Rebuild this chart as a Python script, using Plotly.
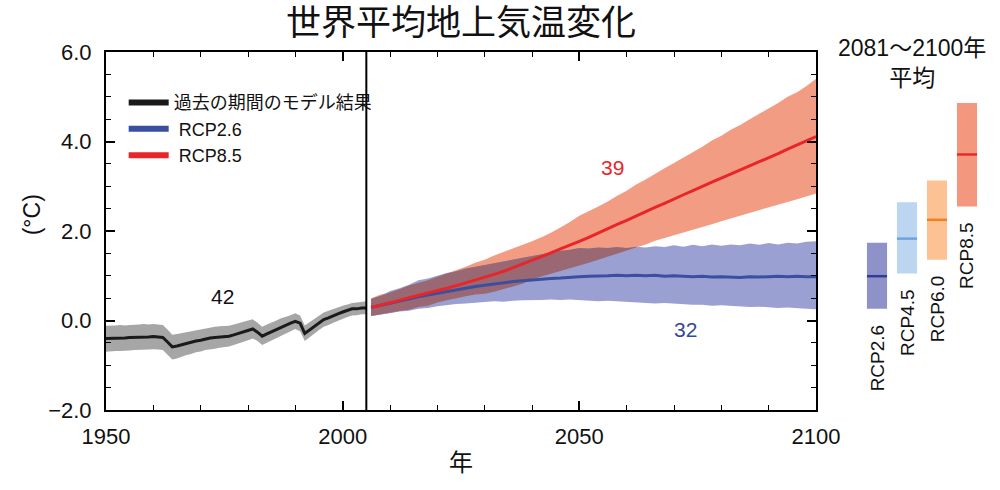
import plotly.graph_objects as go

# ---------------- data ----------------
hist_years = list(range(1950, 2006))
hist_mean = [-0.40, -0.40, -0.39, -0.39, -0.39, -0.38, -0.38, -0.37, -0.37, -0.37,
             -0.36, -0.37, -0.38, -0.48, -0.59, -0.57, -0.54, -0.51, -0.49, -0.46,
             -0.44, -0.41, -0.39, -0.38, -0.37, -0.36, -0.35, -0.32, -0.29, -0.25,
             -0.22, -0.19, -0.26, -0.35, -0.30, -0.25, -0.20, -0.15, -0.11, -0.06,
             -0.02, -0.06, -0.29, -0.21, -0.12, -0.05, 0.02, 0.06, 0.11, 0.15,
             0.19, 0.23, 0.26, 0.26, 0.28, 0.28]
hist_upper = [-0.12, -0.12, -0.11, -0.10, -0.11, -0.10, -0.10, -0.09, -0.08, -0.09,
              -0.08, -0.09, -0.10, -0.20, -0.32, -0.30, -0.28, -0.25, -0.23, -0.21,
              -0.19, -0.17, -0.15, -0.14, -0.13, -0.12, -0.12, -0.09, -0.06, -0.03,
              0.00, 0.03, -0.05, -0.14, -0.09, -0.05, 0.00, 0.05, 0.08, 0.12,
              0.16, 0.11, -0.11, -0.04, 0.05, 0.12, 0.18, 0.22, 0.26, 0.30,
              0.33, 0.36, 0.39, 0.40, 0.42, 0.43]
hist_lower = [-0.70, -0.69, -0.68, -0.68, -0.68, -0.67, -0.66, -0.66, -0.65, -0.65,
              -0.64, -0.65, -0.66, -0.76, -0.87, -0.85, -0.81, -0.77, -0.75, -0.71,
              -0.69, -0.66, -0.64, -0.63, -0.61, -0.59, -0.58, -0.55, -0.52, -0.48,
              -0.44, -0.40, -0.46, -0.55, -0.50, -0.44, -0.39, -0.34, -0.29, -0.24,
              -0.19, -0.24, -0.46, -0.38, -0.29, -0.21, -0.14, -0.10, -0.05, -0.01,
              0.04, 0.08, 0.11, 0.12, 0.14, 0.14]

proj_years = list(range(2006, 2101, 2))
rcp85_mean = [0.29, 0.34, 0.40, 0.45, 0.51, 0.56, 0.61, 0.66, 0.72, 0.78,
              0.84, 0.90, 0.97, 1.03, 1.10, 1.18, 1.26, 1.34, 1.42, 1.51,
              1.60, 1.68, 1.77, 1.86, 1.96, 2.05, 2.15, 2.24, 2.34, 2.44,
              2.53, 2.62, 2.72, 2.81, 2.90, 3.00, 3.09, 3.18, 3.27, 3.37,
              3.46, 3.55, 3.64, 3.73, 3.83, 3.92, 4.02, 4.11]
rcp85_upper = [0.50, 0.58, 0.62, 0.70, 0.78, 0.84, 0.90, 0.98, 1.05, 1.12,
               1.20, 1.29, 1.36, 1.45, 1.53, 1.60, 1.69, 1.77, 1.86, 1.96,
               2.08, 2.20, 2.34, 2.44, 2.55, 2.66, 2.79, 2.90, 3.04, 3.15,
               3.28, 3.40, 3.52, 3.64, 3.77, 3.88, 4.02, 4.13, 4.26, 4.37,
               4.50, 4.62, 4.75, 4.86, 5.00, 5.10, 5.24, 5.40]
rcp85_lower = [0.10, 0.14, 0.17, 0.21, 0.24, 0.30, 0.33, 0.40, 0.45, 0.50,
               0.54, 0.58, 0.60, 0.64, 0.70, 0.76, 0.82, 0.92, 0.98, 1.04,
               1.10, 1.17, 1.23, 1.29, 1.35, 1.42, 1.49, 1.56, 1.63, 1.70,
               1.78, 1.84, 1.90, 1.96, 2.03, 2.09, 2.15, 2.22, 2.28, 2.34,
               2.40, 2.47, 2.53, 2.59, 2.65, 2.71, 2.77, 2.84]
rcp26_mean = [0.29, 0.34, 0.39, 0.44, 0.49, 0.53, 0.57, 0.61, 0.65, 0.69,
              0.73, 0.76, 0.79, 0.82, 0.85, 0.87, 0.89, 0.91, 0.93, 0.94,
              0.95, 0.97, 0.98, 0.99, 0.99, 1.00, 1.01, 1.00, 1.01, 1.00,
              1.01, 0.99, 1.00, 0.99, 0.98, 0.99, 0.97, 0.98, 0.97, 0.96,
              0.98, 0.97, 0.98, 0.99, 0.98, 0.99, 0.98, 0.98]
rcp26_upper = [0.48, 0.55, 0.66, 0.72, 0.80, 0.90, 0.94, 1.00, 1.06, 1.10,
               1.16, 1.20, 1.24, 1.28, 1.32, 1.36, 1.40, 1.44, 1.48, 1.52,
               1.56, 1.58, 1.62, 1.61, 1.63, 1.62, 1.64, 1.62, 1.65, 1.63,
               1.66, 1.64, 1.68, 1.65, 1.69, 1.66, 1.70, 1.67, 1.70, 1.68,
               1.72, 1.69, 1.73, 1.70, 1.74, 1.72, 1.76, 1.77]
rcp26_lower = [0.10, 0.13, 0.16, 0.20, 0.22, 0.26, 0.28, 0.32, 0.35, 0.37,
               0.38, 0.40, 0.41, 0.43, 0.42, 0.44, 0.45, 0.46, 0.46, 0.47,
               0.46, 0.47, 0.46, 0.44, 0.43, 0.44, 0.42, 0.41, 0.40, 0.39,
               0.38, 0.39, 0.37, 0.36, 0.35, 0.35, 0.33, 0.34, 0.32, 0.31,
               0.30, 0.31, 0.29, 0.28, 0.29, 0.27, 0.26, 0.25]

# 2081-2100 averages
scenarios = ["RCP2.6", "RCP4.5", "RCP6.0", "RCP8.5"]
avg_mean = [0.99, 1.83, 2.25, 3.71]
avg_low = [0.26, 1.05, 1.36, 2.55]
avg_high = [1.74, 2.64, 3.13, 4.86]
bar_fill = ["#8F92C9", "#BCD5F0", "#FCC293", "#F3977F"]
bar_line = ["#2F3E95", "#6EA4DD", "#F08020", "#E62A2A"]

legend_names = ["過去の期間のモデル結果", " RCP2.6", " RCP8.5"]
model_counts = [("42", 1974.7, 0.54, "#111111"), ("39", 2057.1, 3.42, "#E8262A"),
                ("32", 2072.5, -0.20, "#33479C")]

FONT = "Liberation Sans, Arial, Noto Sans CJK JP, sans-serif"
RED_BAND = "#F39C84"
BLUE_BAND = "#9BA0D2"
OVERLAP = "#9A6872"
GRAY_BAND = "#A6A6A6"
RED = "#E8262A"
BLUE = "#3A4FA0"
BLACK = "#1A1A1A"

fig = go.Figure()


def band(xs, up, lo, color):
    return go.Scatter(x=list(xs) + list(xs)[::-1], y=list(up) + list(lo)[::-1],
                      fill="toself", fillcolor=color, mode="lines",
                      line=dict(width=0, color=color), hoverinfo="skip",
                      showlegend=False, xaxis="x", yaxis="y")


fig.add_trace(band(proj_years, rcp85_upper, rcp85_lower, RED_BAND))
fig.add_trace(band(proj_years, rcp26_upper, rcp26_lower, BLUE_BAND))

ov_x, ov_hi, ov_lo = [], [], []
for yr, ru, rl, bu, bl in zip(proj_years, rcp85_upper, rcp85_lower, rcp26_upper, rcp26_lower):
    hi, lo = min(ru, bu), max(rl, bl)
    if hi > lo:
        ov_x.append(yr)
        ov_hi.append(hi)
        ov_lo.append(lo)
    else:
        break
fig.add_trace(band(ov_x, ov_hi, ov_lo, OVERLAP))
fig.add_trace(band(hist_years, hist_upper, hist_lower, GRAY_BAND))

fig.add_trace(go.Scatter(x=hist_years, y=hist_mean, mode="lines",
                         line=dict(color=BLACK, width=3), showlegend=False))
fig.add_trace(go.Scatter(x=proj_years, y=rcp26_mean, mode="lines",
                         line=dict(color=BLUE, width=3), showlegend=False))
fig.add_trace(go.Scatter(x=proj_years, y=rcp85_mean, mode="lines",
                         line=dict(color=RED, width=3), showlegend=False))

# legend entries
for name, col in zip(legend_names, [BLACK, BLUE, RED]):
    fig.add_trace(go.Scatter(x=[None], y=[None], mode="lines", name=name,
                             line=dict(color=col, width=6)))

# right-hand bars (2081-2100 mean)
idx = list(range(len(scenarios)))
BW = 0.67
fig.add_trace(go.Bar(x=idx, y=[h - l for h, l in zip(avg_high, avg_low)], base=avg_low,
                     width=BW, marker=dict(color=bar_fill, line=dict(width=0)),
                     xaxis="x2", yaxis="y2", showlegend=False, hoverinfo="skip"))
for i, m, c in zip(idx, avg_mean, bar_line):
    fig.add_trace(go.Scatter(x=[i - BW / 2, i + BW / 2], y=[m, m], mode="lines",
                             line=dict(color=c, width=2.5), xaxis="x2", yaxis="y2",
                             showlegend=False, hoverinfo="skip"))

annotations = []
for i, s, lo in zip(idx, scenarios, avg_low):
    annotations.append(dict(x=i, y=lo, xref="x2", yref="y2", text=s, textangle=-90,
                            showarrow=False, yanchor="top", xanchor="center", yshift=-14,
                            font=dict(size=19, color="#111111", family=FONT)))
for t, xx, yy, c in model_counts:
    annotations.append(dict(x=xx, y=yy, xref="x", yref="y", text=t, showarrow=False,
                            xanchor="center", yanchor="middle",
                            font=dict(size=21, color=c, family=FONT)))

W, H = 1000, 490
L, R, T, B = 106, 10, 52, 80
pw = W - L - R
ph = H - T - B
main_right = (816 - L) / pw

annotations += [
    dict(x=0.5, xref="x domain", y=(T + ph - 23) / ph, yref="paper",
         text="世界平均地上気温変化", showarrow=False, xanchor="center", yanchor="middle",
         font=dict(size=35, color="#111111", family=FONT)),
    dict(x=0.5, xref="x domain", y=-(462 - T - ph) / ph, yref="paper",
         text="年", showarrow=False, xanchor="center", yanchor="middle",
         font=dict(size=24, color="#111111", family=FONT)),
    dict(x=(32 - L) / pw, xref="paper", y=2.35, yref="y", text="(°C)", textangle=-90,
         showarrow=False, xanchor="center", yanchor="middle",
         font=dict(size=23, color="#111111", family=FONT)),
    dict(x=(912 - L) / pw, xref="paper", y=(T + ph - 63) / ph, yref="paper",
         text="2081～2100年<br>平均", showarrow=False, xanchor="center", yanchor="middle",
         font=dict(size=23, color="#111111", family=FONT)),
]

fig.add_vline(x=2005, line=dict(color="black", width=2), layer="above")

axis_common = dict(showline=True, linecolor="black", linewidth=2, mirror="ticks",
                   ticks="inside", tickcolor="black", tickwidth=2, ticklen=9,
                   showgrid=False, zeroline=False,
                   tickfont=dict(size=22, color="#111111", family=FONT))

fig.update_layout(
    width=W, height=H, autosize=False,
    margin=dict(l=L, r=R, t=T, b=B, autoexpand=False),
    paper_bgcolor="white", plot_bgcolor="white",
    font=dict(family=FONT, color="#111111"),
    xaxis=dict(domain=[0, main_right], range=[1950, 2100], tickvals=[1950, 2000, 2050, 2100],
               minor=dict(ticks="inside", dtick=10, tick0=1950, ticklen=5, tickwidth=1,
                          tickcolor="black"),
               ticklabelstandoff=6, **axis_common),
    yaxis=dict(range=[-2, 6], tickvals=[-2, 0, 2, 4, 6], tickformat=".1f",
               minor=dict(ticks="inside", dtick=0.5, tick0=0, ticklen=5, tickwidth=1,
                          tickcolor="black"),
               ticklabelstandoff=8, **axis_common),
    xaxis2=dict(domain=[(862 - L) / pw, (982 - L) / pw], range=[-0.5, 3.5], anchor="y2",
                visible=False),
    yaxis2=dict(range=[-2, 6], anchor="x2", visible=False),
    showlegend=True,
    legend=dict(x=0.02, y=0.91, xanchor="left", yanchor="top", bgcolor="rgba(0,0,0,0)",
                font=dict(size=18, color="#111111", family=FONT), itemwidth=40,
                traceorder="normal", tracegroupgap=4),
    barmode="overlay",
    annotations=annotations,
)

fig.write_html(
    "out.html",
    config={"responsive": False, "displayModeBar": False},
    post_script="document.body.style.margin='0';document.body.style.overflow='hidden';",
)
